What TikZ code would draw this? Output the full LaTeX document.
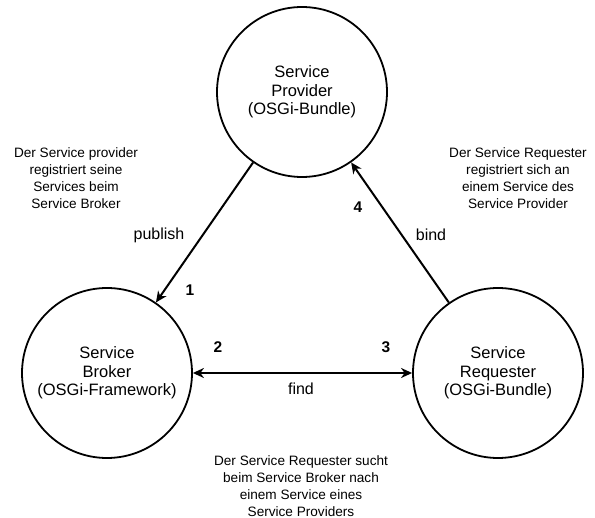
\documentclass[tikz,border=0pt]{standalone}
\usepackage{fontspec}
\setmainfont{Liberation Sans}
\usetikzlibrary{arrows.meta}
\begin{document}
\begin{tikzpicture}[x=1pt,y=-1pt,
  role/.style={circle,draw,line width=1.8pt,minimum size=170pt,inner sep=0pt,
    align=center,font=\fontsize{16.5}{18.5}\selectfont},
  arr/.style={line width=2pt,-{Stealth[length=11pt,width=10pt,inset=3.5pt]}},
  darr/.style={line width=2pt,{Stealth[length=11pt,width=10pt,inset=3.5pt]}-{Stealth[length=11pt,width=10pt,inset=3.5pt]}},
  verb/.style={font=\fontsize{16}{19}\selectfont},
  stepno/.style={font=\bfseries\fontsize{15.5}{18}\selectfont},
  note/.style={align=center,font=\fontsize{13.6}{16.8}\selectfont}]
\useasboundingbox (0,0) rectangle (595,518);

% the three roles
\node[role] (prov) at (302,92) {Service\\Provider\\(OSGi-Bundle)};
\node[role] (brok) at (107,373) {Service\\Broker\\(OSGi-Framework)};
\node[role] (req) at (498,373) {Service\\Requester\\(OSGi-Bundle)};

% interactions
\draw[arr] (prov) -- (brok);
\draw[arr] (req) -- (prov);
\draw[darr] (brok) -- (req);

% interaction names and order
\node[verb] (lpub) at (159,235) {publish};
\node[verb] (lbind) at (431,235) {bind};
\node[verb] (lfind) at (301,389) {find};
\node[stepno] (n1) at (190,290) {1};
\node[stepno] (n2) at (218,347) {2};
\node[stepno] (n3) at (386,347) {3};
\node[stepno] (n4) at (358,207) {4};

% explanations
\node[note] (e1) at (76,178) {Der Service provider\\registriert seine\\Services beim\\Service Broker};
\node[note] (e2) at (518,178) {Der Service Requester\\registriert sich an\\einem Service des\\Service Provider};
\node[note] (e3) at (301,486) {Der Service Requester sucht\\beim Service Broker nach\\einem Service eines\\Service Providers};
\end{tikzpicture}
\end{document}
